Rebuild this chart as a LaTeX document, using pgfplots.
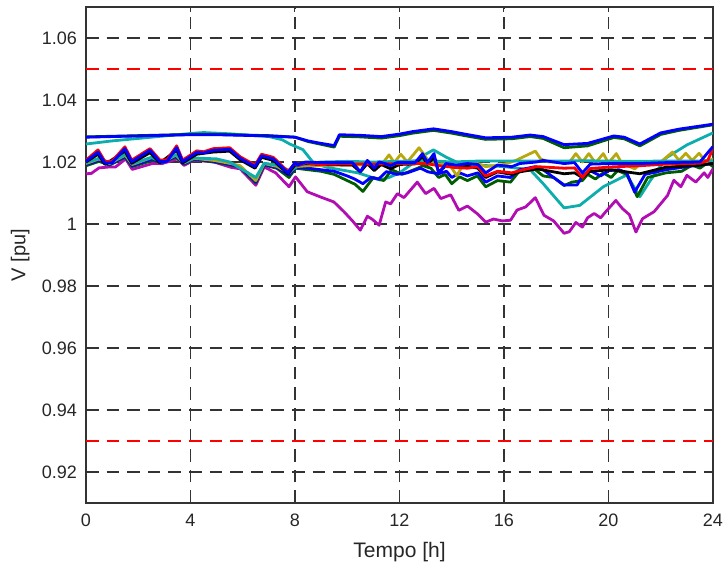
\documentclass[border=0pt]{standalone}
\usepackage{fontspec}
\setmainfont{Liberation Sans}
\usepackage{pgfplots}
\pgfplotsset{compat=1.18}

\definecolor{mblue}{rgb}{0,0,1}
\definecolor{mgreen}{rgb}{0,0.36,0}
\definecolor{mred}{rgb}{1,0,0}
\definecolor{mteal}{rgb}{0.05,0.68,0.68}
\definecolor{mmag}{rgb}{0.7,0.05,0.7}
\definecolor{molive}{rgb}{0.72,0.66,0.05}
\definecolor{mblack}{rgb}{0,0,0}

\begin{document}
\begin{tikzpicture}
\begin{axis}[
  scale only axis,
  width=313.5pt, height=248pt,
  xmin=0, xmax=24, ymin=0.91, ymax=1.07,
  xtick={0,4,...,24},
  ytick={0.92,0.94,0.96,0.98,1,1.02,1.04,1.06},
  /pgf/number format/assume math mode=true,
  /pgf/number format/fixed,
  /pgf/number format/precision=2,
  tick label style={font=\fontsize{9}{10}\selectfont, black!85},
  xticklabel style={yshift=-2pt},
  yticklabel style={xshift=-1pt},
  tick align=inside,
  major tick length=2.5pt,
  tick style={black!80, line width=0.5pt},
  axis line style={black!80, line width=0.6pt},
  grid=major,
  major grid style={black!80, line width=0.55pt, dash pattern=on 6.3pt off 4pt},
  xlabel={Tempo [h]},
  ylabel={V [pu]},
  xlabel style={font=\fontsize{10.5}{12}\selectfont, black!85, at={(axis description cs:0.5,-0.0988)}, anchor=center},
  ylabel style={font=\fontsize{10}{12}\selectfont, black!85, at={(axis description cs:-0.105,0.5)}, anchor=center},
  every axis plot/.append style={line width=1.4pt, line join=round},
]
\coordinate (ll) at (rel axis cs:0,0);
\coordinate (ur) at (rel axis cs:1,1);

% voltage limits
\addplot[mred, line width=0.9pt, dash pattern=on 6.3pt off 4pt] coordinates {(0,1.05) (24,1.05)};
\addplot[mred, line width=0.9pt, dash pattern=on 6.3pt off 4pt] coordinates {(0,0.93) (24,0.93)};

% bus voltages
\addplot[mmag] coordinates {
(0,1.0162)(0.2,1.0163)(0.5,1.0181)(0.9,1.0184)(1.13,1.0184)(1.52,1.0210)(1.77,1.0176)(2.54,1.0195)(2.92,1.0195)(3.5,1.0210)(3.75,1.0189)(4.14,1.0206)(4.9,1.0200)(5.54,1.0183)(5.9,1.0178)(6.5,1.0125)(6.82,1.0184)(7.26,1.0165)(7.77,1.0120)(8.02,1.0152)(8.47,1.0104)(8.98,1.0087)(9.49,1.0071)(9.87,1.0040)(10.2,1.0010)(10.5,0.9980)(10.77,1.0025)(10.96,1.0015)(11.22,0.9996)(11.47,1.0071)(11.66,1.0065)(11.92,1.0098)(12.17,1.0085)(12.68,1.0135)(13.0,1.0098)(13.32,1.0115)(13.58,1.0082)(13.96,1.0094)(14.27,1.0044)(14.6,1.0058)(14.98,1.0033)(15.3,1.0006)(15.6,1.0016)(15.93,1.0010)(16.25,1.0012)(16.5,1.0045)(16.83,1.0055)(17.2,1.0085)(17.53,1.0028)(17.9,1.0010)(18.3,0.9970)(18.5,0.9975)(18.75,1.0005)(19.0,0.9990)(19.2,1.0020)(19.45,1.0034)(19.7,1.0020)(19.9,1.0040)(20.28,1.0076)(20.53,1.0050)(20.8,1.0030)(21.05,0.9974)(21.3,1.0017)(21.75,1.0040)(22.26,1.0092)(22.5,1.0141)(22.77,1.0120)(23.0,1.0157)(23.34,1.0135)(23.66,1.0165)(23.8,1.0150)(24,1.0178)};

\addplot[mteal] coordinates {
(0,1.0258)(1,1.0268)(2,1.0276)(3,1.0284)(4,1.0292)(4.5,1.0295)(5.5,1.0291)(6.5,1.0285)(7,1.0282)(7.5,1.0272)(7.8,1.0258)(8.3,1.0240)(8.7,1.0198)(9.2,1.0183)(10.4,1.0165)(11.25,1.0142)(11.6,1.0150)(12,1.0165)(12.5,1.0195)(13,1.0225)(13.3,1.0239)(13.8,1.0215)(14.3,1.0195)(15,1.0190)(16,1.0185)(17,1.0175)(17.5,1.0130)(18.3,1.0052)(18.9,1.0060)(19.8,1.0120)(20.7,1.0158)(21.2,1.0088)(21.6,1.0140)(22.2,1.0213)(23,1.0255)(24,1.0294)};

\addplot[mgreen] coordinates {
(0,1.0188)(0.5,1.0202)(0.9,1.0190)(1.5,1.0215)(1.77,1.0185)(2.54,1.0205)(2.92,1.0198)(3.44,1.0216)(3.75,1.0193)(4.14,1.0208)(4.9,1.0200)(5.54,1.0190)(5.9,1.0183)(6.5,1.0132)(6.82,1.0190)(7.3,1.0180)(7.77,1.0150)(8.02,1.0180)(8.5,1.0175)(9,1.0170)(9.5,1.0160)(10.0,1.0140)(10.3,1.0128)(10.6,1.0105)(11.0,1.0150)(11.4,1.0140)(11.7,1.0175)(12.1,1.0160)(12.4,1.0170)(12.7,1.0180)(12.9,1.0188)(13.2,1.0180)(13.5,1.0150)(13.75,1.0160)(14.0,1.0130)(14.3,1.0152)(14.6,1.0140)(14.98,1.0155)(15.3,1.0120)(15.75,1.0140)(16.25,1.0135)(16.6,1.0172)(17.2,1.0175)(17.5,1.0155)(17.9,1.0150)(18.3,1.0124)(18.6,1.0135)(19.0,1.0140)(19.2,1.0160)(19.5,1.0145)(19.8,1.0165)(20.1,1.0150)(20.35,1.0172)(20.7,1.0160)(21.1,1.0088)(21.5,1.0150)(22.2,1.0165)(22.8,1.0170)(23.2,1.0190)(23.5,1.0180)(23.8,1.0198)(24,1.0185)};

\addplot[mblue] coordinates {
(0,1.0192)(0.5,1.0206)(0.9,1.0192)(1.5,1.0218)(1.77,1.0188)(2.54,1.0210)(2.92,1.0198)(3.44,1.0219)(3.75,1.0195)(4.14,1.0210)(4.9,1.0202)(5.54,1.0192)(5.9,1.0185)(6.5,1.0136)(6.82,1.0192)(7.3,1.0183)(7.77,1.0158)(8.02,1.0183)(8.5,1.0180)(9,1.0175)(9.5,1.0170)(10.0,1.0155)(10.26,1.0146)(10.6,1.0130)(10.9,1.0150)(11.2,1.0145)(11.5,1.0169)(11.9,1.0160)(12.3,1.0165)(12.8,1.0180)(13.1,1.0168)(13.5,1.0162)(13.8,1.0170)(14.0,1.0150)(14.3,1.0165)(14.6,1.0155)(15.0,1.0165)(15.3,1.0135)(15.75,1.0155)(16.25,1.0150)(16.6,1.0175)(17.2,1.0185)(17.5,1.0175)(17.9,1.0150)(18.3,1.0126)(18.8,1.0126)(19.0,1.0155)(19.3,1.0172)(19.7,1.0155)(20.0,1.0172)(20.4,1.0175)(20.7,1.0165)(21.0,1.0103)(21.4,1.0160)(22.2,1.0175)(23,1.0185)(24,1.0195)};

\addplot[molive] coordinates {
(0,1.0195)(0.5,1.0210)(0.9,1.0195)(1.5,1.0222)(1.77,1.0192)(2.54,1.0215)(2.92,1.0200)(3.44,1.0222)(3.75,1.0197)(4.14,1.0212)(4.9,1.0205)(5.54,1.0195)(5.9,1.0188)(6.5,1.0140)(6.82,1.0195)(7.3,1.0186)(7.77,1.0165)(8.02,1.0185)(8.5,1.0188)(9.5,1.0190)(10.5,1.0190)(11.3,1.0190)(11.6,1.0223)(11.8,1.0198)(12.05,1.0225)(12.3,1.0200)(12.75,1.0246)(13.1,1.0205)(13.5,1.0193)(13.9,1.0193)(14.2,1.0155)(14.45,1.0195)(15,1.0195)(15.3,1.0185)(16,1.0192)(16.45,1.0205)(17.2,1.0235)(17.4,1.0210)(17.7,1.0200)(18.5,1.0198)(18.75,1.0227)(19.0,1.0200)(19.25,1.0227)(19.5,1.0197)(19.8,1.0227)(20.0,1.0197)(20.3,1.0227)(20.5,1.0197)(21.0,1.0178)(21.3,1.0198)(22,1.0200)(22.45,1.0232)(22.7,1.0205)(22.96,1.0228)(23.2,1.0205)(23.47,1.0228)(23.73,1.0200)(24,1.0210)};

\addplot[mteal] coordinates {
(0,1.0198)(0.5,1.0212)(0.9,1.0198)(1.5,1.0224)(1.8,1.0195)(2.5,1.0215)(2.9,1.0200)(3.45,1.0224)(3.75,1.0198)(4.14,1.0213)(5,1.0210)(5.5,1.0200)(6.5,1.0150)(6.82,1.0196)(7.3,1.0190)(7.8,1.0172)(8.2,1.0190)(9,1.0200)(10,1.0202)(11,1.0200)(12,1.0202)(13,1.0205)(14,1.0200)(15,1.0203)(16,1.0203)(17,1.0203)(18,1.0203)(19,1.0204)(20,1.0203)(21,1.0202)(22,1.0203)(23,1.0203)(24,1.0204)};

\addplot[mblack] coordinates {
(0,1.0200)(0.46,1.0225)(0.73,1.0192)(1.49,1.0235)(1.75,1.0196)(2.45,1.0230)(2.83,1.0197)(3.47,1.0238)(3.7,1.0197)(4.24,1.0225)(4.87,1.0232)(5.5,1.0235)(5.9,1.0207)(6.47,1.0180)(6.72,1.0215)(7.17,1.0205)(7.73,1.0162)(8.0,1.0190)(8.4,1.0195)(9,1.0192)(10.2,1.0190)(10.5,1.0168)(10.77,1.0195)(11.03,1.0172)(11.3,1.0192)(11.66,1.0178)(12,1.0192)(12.6,1.0194)(12.88,1.0218)(13.07,1.0192)(13.32,1.0215)(13.5,1.0168)(13.78,1.0188)(14.2,1.0182)(14.6,1.0186)(15.0,1.0180)(15.3,1.0150)(15.75,1.0168)(16.3,1.0160)(16.6,1.0168)(17.25,1.0178)(18.3,1.0162)(18.7,1.0165)(19.0,1.0150)(19.3,1.0170)(20.1,1.0175)(21.2,1.0162)(22.2,1.0183)(23.5,1.0190)(24,1.0195)};

\addplot[mred] coordinates {
(0,1.0206)(0.46,1.0239)(0.73,1.0201)(1.0,1.0203)(1.49,1.0249)(1.75,1.0206)(2.45,1.0243)(2.83,1.0206)(3.1,1.0207)(3.47,1.0252)(3.7,1.0206)(4.24,1.0236)(4.5,1.0233)(4.87,1.0243)(5.5,1.0246)(5.9,1.0217)(6.47,1.0190)(6.72,1.0225)(7.17,1.0215)(7.73,1.0169)(8.0,1.0196)(8.1,1.0188)(8.4,1.0197)(9,1.0192)(10,1.0194)(11,1.0193)(12,1.0195)(13,1.0195)(13.6,1.0187)(14.2,1.0182)(14.6,1.0180)(15,1.0185)(15.3,1.0155)(15.75,1.0170)(16.3,1.0165)(16.6,1.0172)(17.25,1.0185)(18.3,1.0180)(18.7,1.0181)(19.0,1.0150)(19.3,1.0179)(20.1,1.0184)(21.2,1.0188)(22.2,1.0193)(23.5,1.0196)(23.8,1.0205)(24,1.0244)};

\addplot[mblue] coordinates {
(0,1.0202)(0.46,1.0232)(0.73,1.0196)(1.0,1.0198)(1.49,1.0243)(1.75,1.0201)(2.45,1.0238)(2.83,1.0201)(3.1,1.0202)(3.47,1.0246)(3.7,1.0201)(4.24,1.0231)(4.5,1.0229)(4.87,1.0238)(5.5,1.0241)(5.9,1.0212)(6.47,1.0185)(6.72,1.0220)(7.17,1.0210)(7.73,1.0165)(8.0,1.0198)(8.1,1.0190)(8.4,1.0200)(9,1.0198)(9.5,1.0198)(10.2,1.0198)(10.5,1.0169)(10.77,1.0205)(11.03,1.0180)(11.22,1.0200)(11.41,1.0196)(11.66,1.0188)(11.9,1.0198)(12.6,1.0198)(12.88,1.0227)(13.07,1.0198)(13.32,1.0227)(13.5,1.0163)(13.78,1.0195)(14.2,1.0190)(14.6,1.0195)(15.0,1.0192)(15.3,1.0165)(15.75,1.0190)(16.3,1.0185)(16.6,1.0195)(17.25,1.0200)(17.5,1.0205)(18.3,1.0195)(18.7,1.0198)(19.0,1.0165)(19.3,1.0193)(20.1,1.0195)(21.2,1.0195)(22.2,1.0198)(23.5,1.0200)(24,1.0250)};

\addplot[mgreen] coordinates {
(0,1.0281)(1,1.0283)(2,1.0285)(3,1.0287)(4,1.0289)(5,1.0289)(6,1.0287)(7,1.0285)(8,1.0280)(8.5,1.0266)(9,1.0257)(9.5,1.0248)(9.7,1.0283)(10.5,1.0281)(11.3,1.0277)(12,1.0285)(12.5,1.0293)(13.3,1.0302)(14,1.0293)(14.5,1.0285)(15.3,1.0273)(16.3,1.0275)(17,1.0282)(17.5,1.0276)(18.3,1.0246)(19.2,1.0252)(20.2,1.0279)(20.6,1.0275)(21.2,1.0252)(22,1.0289)(22.7,1.0302)(24,1.0320)};

\addplot[mblue] coordinates {
(0,1.0280)(1,1.0282)(2,1.0284)(3,1.0286)(4,1.0288)(5,1.0288)(6,1.0286)(7,1.0284)(8,1.0280)(8.5,1.0268)(9,1.0260)(9.5,1.0253)(9.7,1.0288)(10.5,1.0286)(11.3,1.0282)(12,1.0290)(12.5,1.0298)(13.3,1.0307)(14,1.0298)(14.5,1.0290)(15.3,1.0278)(16.3,1.0280)(17,1.0287)(17.5,1.0282)(18.3,1.0256)(19.2,1.0260)(20.2,1.0284)(20.6,1.0280)(21.2,1.0258)(22,1.0294)(22.7,1.0306)(24,1.0322)};
\end{axis}
\pgfresetboundingbox
\path ([xshift=-43pt,yshift=-33.5pt]ll) rectangle ([xshift=5.5pt,yshift=3.5pt]ur);
\end{tikzpicture}
\end{document}
